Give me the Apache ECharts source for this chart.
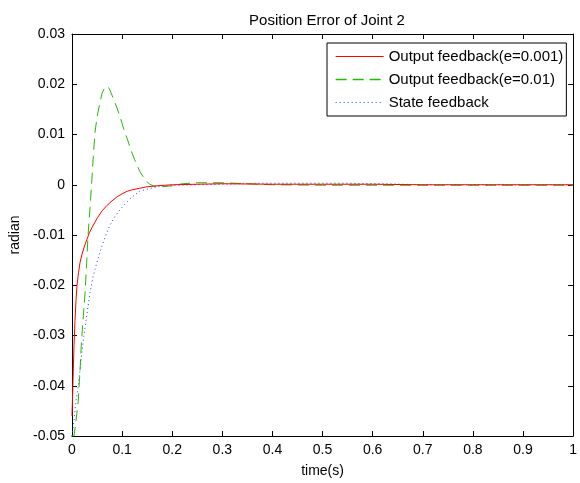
<!DOCTYPE html>
<html>
<head>
<meta charset="utf-8">
<script src="https://cdn.jsdelivr.net/npm/echarts@6/dist/echarts.min.js"></script>
<style>
html,body{margin:0;padding:0;background:#fff;}
#c{width:580px;height:483px;}
</style>
</head>
<body>
<div id="c"></div>
<script>
var titleText = 'Position Error of Joint 2';
var xName = 'time(s)';
var yName = 'radian';
var seriesNames = ['Output feedback(e=0.001)', 'Output feedback(e=0.01)', 'State feedback'];

var redT = [0, 0.002, 0.004, 0.006, 0.008, 0.010, 0.013, 0.016, 0.02, 0.025, 0.03, 0.035, 0.04, 0.05, 0.06, 0.07, 0.08, 0.09, 0.10, 0.11, 0.12, 0.135, 0.15, 0.17, 0.2, 0.25, 0.3, 0.4, 0.5, 0.6, 0.7, 0.8, 0.9, 1.0];
var redV = [-0.046, -0.039, -0.032, -0.027, -0.023, -0.020, -0.0175, -0.0155, -0.0138, -0.0122, -0.0108, -0.0095, -0.0085, -0.0067, -0.0052, -0.0041, -0.0032, -0.0024, -0.0018, -0.0013, -0.0010, -0.0007, -0.0004, -0.0002, 0, 0.0001, 0.0002, 0.0001, 0.0001, 0.0001, 0, 0, 0, 0];

var greenT = [0, 0.004, 0.008, 0.0125, 0.016, 0.019, 0.022, 0.026, 0.029, 0.032, 0.036, 0.039, 0.043, 0.046, 0.05, 0.055, 0.06, 0.065, 0.069, 0.074, 0.08, 0.085, 0.09, 0.095, 0.1, 0.105, 0.11, 0.118, 0.125, 0.135, 0.145, 0.155, 0.165, 0.18, 0.2, 0.22, 0.25, 0.3, 0.35, 0.4, 0.5, 0.6, 0.7, 0.8, 0.9, 1.0];
var greenV = [-0.05, -0.05, -0.047, -0.043, -0.037, -0.031, -0.027, -0.0216, -0.016, -0.0101, -0.0045, 0, 0.0065, 0.0105, 0.0135, 0.016, 0.0182, 0.0193, 0.0196, 0.0192, 0.0178, 0.0165, 0.0152, 0.0138, 0.0122, 0.0105, 0.0092, 0.0068, 0.005, 0.0027, 0.0011, 0.0001, -0.0003, -0.0004, -0.0002, 0.0002, 0.0004, 0.0004, 0.0002, 0, -0.0001, -0.0001, -0.0001, -0.0001, -0.0001, -0.0001];

var blueT = [0, 0.004, 0.008, 0.0125, 0.017, 0.022, 0.028, 0.0357, 0.042, 0.049, 0.059, 0.067, 0.075, 0.085, 0.099, 0.11, 0.118, 0.127, 0.135, 0.145, 0.155, 0.165, 0.175, 0.19, 0.21, 0.25, 0.3, 0.37, 0.45, 0.55, 0.62, 0.7, 0.8, 0.9, 1.0];
var blueV = [-0.05, -0.047, -0.043, -0.040, -0.036, -0.0314, -0.027, -0.0216, -0.0183, -0.0157, -0.0124, -0.0102, -0.0082, -0.0064, -0.0046, -0.0034, -0.0026, -0.0019, -0.0013, -0.001, -0.0008, -0.0005, -0.0003, -0.0002, -0.0001, 0, 0.0001, 0.0003, 0.0003, 0.0003, 0.0002, 0, 0, 0, 0];

var RED = '#ff0000', GREEN = '#22bb00', BLUE = '#2244ee';
var GREEN_DASH = [11, 6], BLUE_DOT = [1, 3];

function zip(t, v) { return t.map(function (x, i) { return [x, v[i]]; }); }

var FONT = 'Liberation Sans, Arial, sans-serif';
var fmt = function (v) { return String(parseFloat(v.toFixed(3))); };

function axisCommon(extra) {
  var base = {
    type: 'value',
    axisLine: { show: true, onZero: false, lineStyle: { color: '#000', width: 1 } },
    axisTick: { show: true, inside: true, length: 5, lineStyle: { color: '#000' } },
    splitLine: { show: false },
    axisLabel: { color: '#000', fontFamily: FONT, fontSize: 14, formatter: fmt }
  };
  for (var k in extra) base[k] = extra[k];
  return base;
}

var chart = echarts.init(document.getElementById('c'), null, { renderer: 'canvas' });
chart.setOption({
  backgroundColor: '#fff',
  animation: false,
  title: {
    text: titleText, left: 322, top: 8, textAlign: 'center',
    textStyle: { fontFamily: FONT, fontSize: 15, fontWeight: 'normal', color: '#000' }
  },
  grid: { left: 72, right: 5, top: 34, bottom: 42, containLabel: false },
  legend: {
    orient: 'vertical', left: 327, top: 43,
    backgroundColor: '#fff', borderColor: '#000', borderWidth: 1,
    padding: [6, 3, 6, 8], itemGap: 8, itemWidth: 48, itemHeight: 14,
    itemStyle: { opacity: 0, borderWidth: 0 },
    textStyle: { fontFamily: FONT, fontSize: 15, lineHeight: 14, color: '#000' },
    data: [
      { name: seriesNames[0], lineStyle: { color: RED, width: 1, type: 'solid', opacity: 1 } },
      { name: seriesNames[1], lineStyle: { color: GREEN, width: 1.3, type: GREEN_DASH, opacity: 1 } },
      { name: seriesNames[2], lineStyle: { color: BLUE, width: 1, type: BLUE_DOT, opacity: 1 } }
    ]
  },
  xAxis: [
    axisCommon({ position: 'bottom', min: 0, max: 1, interval: 0.1,
      name: xName, nameLocation: 'middle', nameGap: 28,
      nameTextStyle: { fontFamily: FONT, fontSize: 14, color: '#000' },
      axisLabel: { color: '#000', fontFamily: FONT, fontSize: 14, margin: 7, formatter: fmt } }),
    axisCommon({ position: 'top', min: 0, max: 1, interval: 0.1, axisLabel: { show: false } })
  ],
  yAxis: [
    axisCommon({ position: 'left', min: -0.05, max: 0.03, interval: 0.01,
      name: yName, nameLocation: 'middle', nameGap: 50, nameRotate: 90,
      nameTextStyle: { fontFamily: FONT, fontSize: 14, color: '#000' },
      axisLabel: { color: '#000', fontFamily: FONT, fontSize: 14, margin: 7, formatter: fmt } }),
    axisCommon({ position: 'right', min: -0.05, max: 0.03, interval: 0.01, axisLabel: { show: false } })
  ],
  series: [
    { name: seriesNames[0], type: 'line', data: zip(redT, redV), showSymbol: false, symbol: 'none',
      color: RED, lineStyle: { color: RED, width: 1, type: 'solid' }, z: 5 },
    { name: seriesNames[1], type: 'line', data: zip(greenT, greenV), showSymbol: false, symbol: 'none',
      color: GREEN, lineStyle: { color: GREEN, width: 1, type: GREEN_DASH }, z: 4 },
    { name: seriesNames[2], type: 'line', data: zip(blueT, blueV), showSymbol: false, symbol: 'none',
      color: BLUE, lineStyle: { color: BLUE, width: 1, type: BLUE_DOT }, z: 3 }
  ]
});
</script>
</body>
</html>
